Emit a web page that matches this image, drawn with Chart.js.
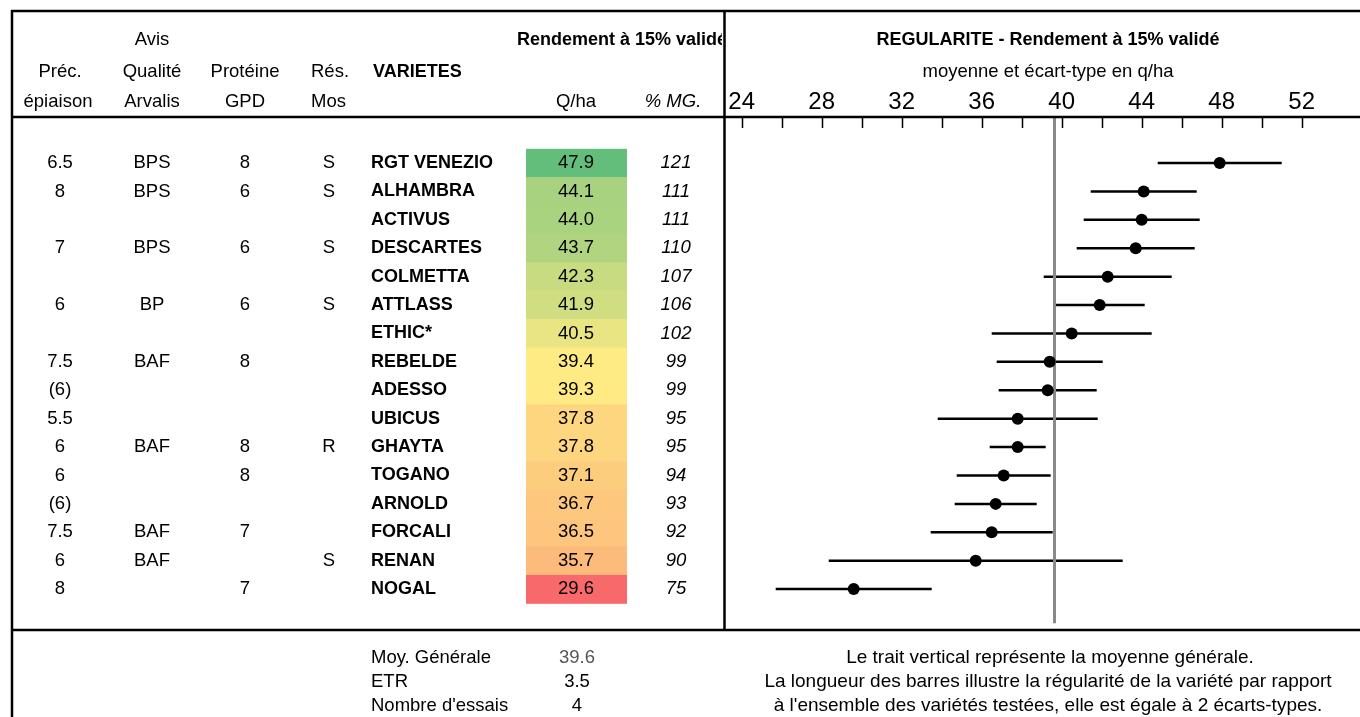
<!DOCTYPE html>
<html>
<head>
<meta charset="utf-8">
<title>Régularité - Rendement à 15% validé</title>
<script src="https://cdn.jsdelivr.net/npm/chart.js@4.4.1/dist/chart.umd.min.js"></script>
<style>
body { margin: 0; background: #fff; }
#wrap { position: relative; width: 1360px; height: 717px; }
</style>
</head>
<body>
<div id="wrap"><canvas id="myChart" width="1360" height="717"></canvas></div>
<script>
var varietes = ['RGT VENEZIO', 'ALHAMBRA', 'ACTIVUS', 'DESCARTES', 'COLMETTA', 'ATTLASS', 'ETHIC*', 'REBELDE',
  'ADESSO', 'UBICUS', 'GHAYTA', 'TOGANO', 'ARNOLD', 'FORCALI', 'RENAN', 'NOGAL'];
var precocite = ['6.5', '8', '', '7', '', '6', '', '7.5', '(6)', '5.5', '6', '6', '(6)', '7.5', '6', '8'];
var qualite = ['BPS', 'BPS', '', 'BPS', '', 'BP', '', 'BAF', '', '', 'BAF', '', '', 'BAF', 'BAF', ''];
var proteine = ['8', '6', '', '6', '', '6', '', '8', '', '', '8', '8', '', '7', '', '7'];
var resMos = ['S', 'S', '', 'S', '', 'S', '', '', '', '', 'R', '', '', '', 'S', ''];
var rendement = [47.9, 44.1, 44.0, 43.7, 42.3, 41.9, 40.5, 39.4, 39.3, 37.8, 37.8, 37.1, 36.7, 36.5, 35.7, 29.6];
var pctMG = [121, 111, 111, 110, 107, 106, 102, 99, 99, 95, 95, 94, 93, 92, 90, 75];
// demi-longueur des barres (ecart-type)
var ecartType = [3.1, 2.65, 2.9, 2.95, 3.2, 2.25, 4.0, 2.65, 2.45, 4.0, 1.4, 2.35, 2.05, 3.05, 7.35, 3.9];
var moyenneGenerale = 39.64;
var etr = '3.5';
var nbEssais = '4';
var axisLabels = [24, 28, 32, 36, 40, 44, 48, 52];

var police = "'Liberation Sans', Arial, sans-serif";
Chart.defaults.font.family = police;
Chart.defaults.color = '#000';

// echelle de couleur 3 couleurs (rouge / jaune / vert)
function couleur(v) {
  var s = rendement.slice().sort(function(a, b) { return a - b; });
  var n = s.length;
  var min = s[0], max = s[n - 1];
  var med = n % 2 ? s[(n - 1) / 2] : (s[n / 2 - 1] + s[n / 2]) / 2;
  var rouge = [248, 105, 107], jaune = [255, 235, 132], vert = [99, 190, 123];
  var a, b, t;
  if (v >= med) { a = jaune; b = vert; t = (v - med) / (max - med); }
  else { a = rouge; b = jaune; t = (v - min) / (med - min); }
  return 'rgb(' + a.map(function(c, k) { return Math.round(c + (b[k] - c) * t); }).join(',') + ')';
}

var points = [];
var barres = [];
for (var i = 0; i < rendement.length; i++) {
  points.push({x: rendement[i], y: i});
  barres.push({x: rendement[i] - ecartType[i], y: i});
  barres.push({x: rendement[i] + ecartType[i], y: i});
  barres.push({x: rendement[i], y: null});
}

var yMin = -1.62, yMax = 16.44;

var tableau = {
  id: 'tableau',
  afterDraw: function(chart) {
    var ctx = chart.ctx;
    var sx = chart.scales.x, sy = chart.scales.y;
    var h = Math.abs(sy.getPixelForValue(1) - sy.getPixelForValue(0));
    var top = chart.chartArea.top;
    ctx.save();

    // petites graduations vers le bas
    ctx.strokeStyle = '#000';
    ctx.lineWidth = 1.5;
    sx.ticks.forEach(function(t) {
      var px = Math.round(sx.getPixelForValue(t.value)) + 0.5;
      ctx.beginPath();
      ctx.moveTo(px, top);
      ctx.lineTo(px, top + 11);
      ctx.stroke();
    });

    // cellules colorees
    for (var i = 0; i < rendement.length; i++) {
      var y0 = sy.getPixelForValue(i - 0.5);
      ctx.fillStyle = couleur(rendement[i]);
      ctx.fillRect(526, y0, 101, h + 0.5);
    }

    ctx.fillStyle = '#000';
    ctx.textBaseline = 'middle';
    var normal = '18.5px ' + police, gras = 'bold 18px ' + police, ital = 'italic 18.5px ' + police;

    function txt(s, x, y, align, font, color) {
      ctx.font = font || normal;
      ctx.textAlign = align || 'center';
      ctx.fillStyle = color || '#000';
      ctx.fillText(s, x, y);
    }

    // en-tetes
    txt('Avis', 152, 40);
    txt('Préc.', 60, 72);
    txt('Qualité', 152, 72);
    txt('Protéine', 245, 72);
    txt('Rés.', 311, 72, 'left');
    txt('VARIETES', 373, 72, 'left', gras);
    txt('épiaison', 58, 102);
    txt('Arvalis', 152, 102);
    txt('GPD', 245, 102);
    txt('Mos', 311, 102, 'left');
    txt('Q/ha', 576, 102);
    txt('% MG.', 673, 102, 'center', ital);
    ctx.save();
    ctx.beginPath();
    ctx.rect(0, 0, 722, 117);
    ctx.clip();
    txt('Rendement à 15% validé', 517, 40, 'left', gras);
    ctx.restore();
    txt('REGULARITE - Rendement à 15% validé', 1048, 40, 'center', gras);
    txt('moyenne et écart-type en q/ha', 1048, 72);

    // lignes du tableau
    for (var i = 0; i < rendement.length; i++) {
      var y = sy.getPixelForValue(i);
      txt(precocite[i], 60, y);
      txt(qualite[i], 152, y);
      txt(proteine[i], 245, y);
      txt(resMos[i], 329, y);
      txt(varietes[i], 371, y, 'left', gras);
      txt(rendement[i].toFixed(1), 576, y);
      txt(String(pctMG[i]), 676, y, 'center', ital);
    }

    // bas de page
    txt('Moy. Générale', 371, 658, 'left');
    txt(moyenneGenerale.toFixed(1), 577, 658, 'center', normal, '#555');
    txt('ETR', 371, 682, 'left');
    txt(etr, 577, 682);
    txt("Nombre d'essais", 371, 706, 'left');
    txt(nbEssais, 577, 706);
    var note = '19px ' + police;
    txt('Le trait vertical représente la moyenne générale.', 1050, 658, 'center', note);
    txt('La longueur des barres illustre la régularité de la variété par rapport', 1048, 682, 'center', note);
    txt("à l'ensemble des variétés testées, elle est égale à 2 écarts-types.", 1048, 706, 'center', note);

    // cadre
    ctx.strokeStyle = '#000';
    ctx.lineWidth = 2.5;
    ctx.beginPath();
    ctx.moveTo(11, 11); ctx.lineTo(1360, 11);
    ctx.moveTo(11, top); ctx.lineTo(1360, top);
    ctx.moveTo(11, 630); ctx.lineTo(1360, 630);
    ctx.moveTo(12, 10); ctx.lineTo(12, 717);
    ctx.moveTo(724.5, 10); ctx.lineTo(724.5, 630);
    ctx.stroke();
    ctx.restore();
  }
};

var ctx = document.getElementById('myChart').getContext('2d');
var myChart = new Chart(ctx, {
  type: 'scatter',
  data: {
    datasets: [
      {
        label: 'Rendement moyen',
        data: points,
        backgroundColor: '#000',
        borderColor: '#000',
        borderWidth: 0,
        pointRadius: 6,
        pointHoverRadius: 6
      },
      {
        label: 'Moyenne générale',
        data: [{x: moyenneGenerale, y: yMin}, {x: moyenneGenerale, y: varietes.length + 0.2}],
        showLine: true,
        borderColor: '#8a8a8a',
        borderWidth: 3,
        pointRadius: 0
      },
      {
        label: 'Ecart-type',
        data: barres,
        showLine: true,
        spanGaps: false,
        borderColor: '#000',
        borderWidth: 2.5,
        pointRadius: 0
      }
    ]
  },
  options: {
    responsive: false,
    animation: false,
    devicePixelRatio: 1,
    events: [],
    layout: { padding: { left: 724, right: 20, top: 0, bottom: 87 } },
    plugins: { legend: { display: false }, tooltip: { enabled: false } },
    scales: {
      x: {
        type: 'linear',
        position: 'top',
        min: 23.115,
        max: 53.915,
        afterFit: function(s) { s.height = 117; },
        grid: { drawOnChartArea: false, drawTicks: false },
        border: { display: false },
        ticks: {
          stepSize: 2,
          includeBounds: false,
          autoSkip: false,
          maxRotation: 0,
          padding: 0,
          color: '#000',
          font: { size: 24 },
          callback: function(v) { return axisLabels.indexOf(v) >= 0 ? String(v) : ''; }
        }
      },
      y: {
        type: 'linear',
        reverse: true,
        min: yMin,
        max: yMax,
        display: false
      }
    }
  },
  plugins: [tableau]
});
</script>
</body>
</html>
